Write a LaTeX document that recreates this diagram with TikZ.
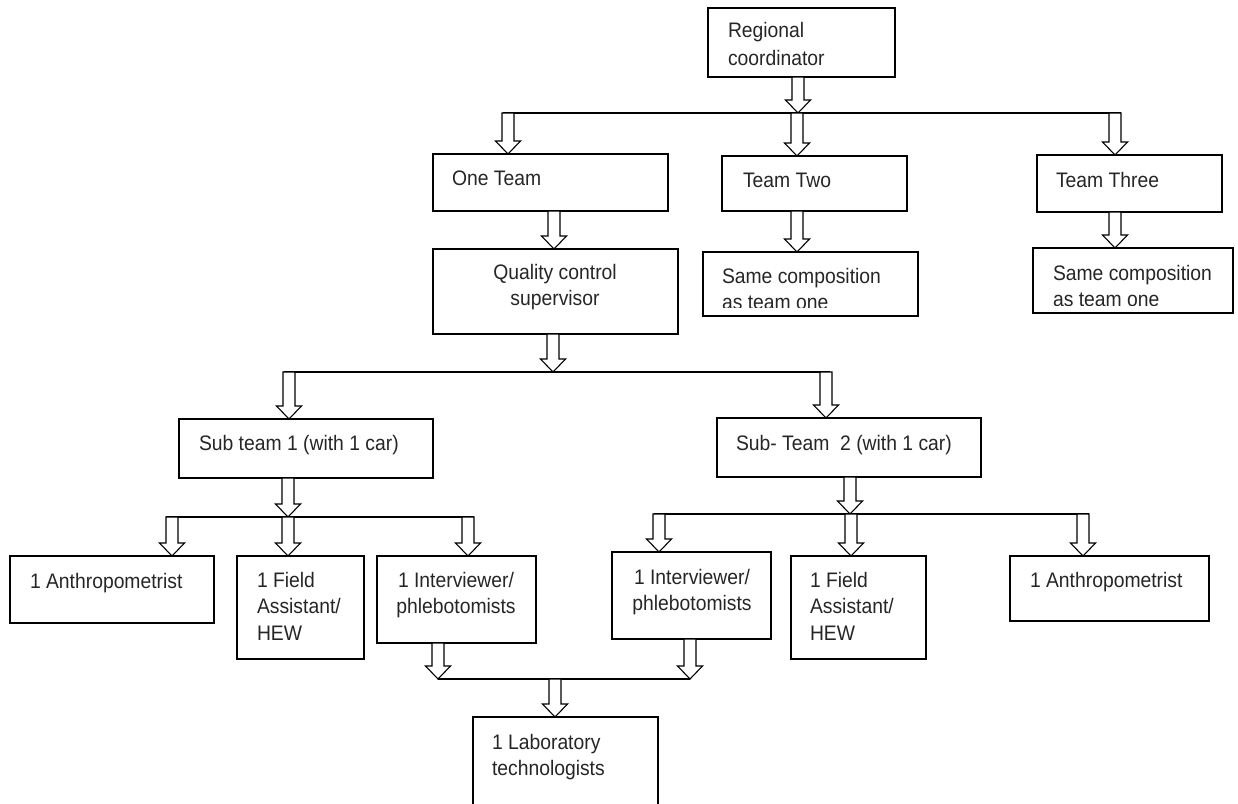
\documentclass[tikz,border=0pt]{standalone}
\usepackage{fontspec}
\setmainfont{Liberation Sans}[FakeStretch=0.92]
\usetikzlibrary{calc}
\tikzset{
  bx/.style={draw=black, line width=1.3pt, fill=white, rectangle, inner sep=0pt, outer sep=0pt},
  txt/.style={inner sep=0pt, outer sep=0pt, font=\fontsize{21}{26.5}\selectfont, text=black!85},
  barrow/.style={draw=black, line width=1.1pt, fill=white, line join=miter},
  bus/.style={draw=black, line width=1.3pt},
}
\newcommand{\mkbox}[5]{\node[bx, anchor=north west, minimum width=#4-#2, minimum height=#5-#3] (#1) at (#2,#3) {};}
\newcommand{\ltxt}[4]{\node[txt, anchor=north west, align=left] (#1) at (#2,#3-18.55) {\strut #4};}
\newcommand{\ctxt}[4]{\node[txt, anchor=north, align=center] (#1) at (#2,#3-18.55) {\strut #4};}
\newcommand{\barr}[3]{\draw[barrow] let \p1=(#2), \p2=(#3), \p3=(#1,0) in
  (\x3-6pt,\y1) -- (\x3-6pt,\y2+13pt) -- (\x3-12.5pt,\y2+13pt) -- (\x3,\y2) --
  (\x3+12.5pt,\y2+13pt) -- (\x3+6pt,\y2+13pt) -- (\x3+6pt,\y1) -- cycle;}
\begin{document}
\begin{tikzpicture}[x=1pt,y=-1pt]
\useasboundingbox (0,0) rectangle (1238,803);
\clip (0,0) rectangle (1238,803);
\fill[white] (0,0) rectangle (1238,803);

% bus lines
\coordinate (bus1) at (503,113);  \coordinate (bus1e) at (1121,113);
\coordinate (bus2) at (284,372);  \coordinate (bus2e) at (830,372);
\coordinate (bus3) at (166,517);  \coordinate (bus3e) at (474,517);
\coordinate (bus4) at (654,514);  \coordinate (bus4e) at (1089,514);
\coordinate (bus5) at (438,679);  \coordinate (bus5e) at (690,679);
\draw[bus] (bus1) -- (bus1e);
\draw[bus] (bus2) -- (bus2e);
\draw[bus] (bus3) -- (bus3e);
\draw[bus] (bus4) -- (bus4e);
\draw[bus] (bus5) -- (bus5e);

% boxes
\mkbox{rc}{708}{8}{895}{77}
\mkbox{t1}{433}{154}{668}{211}
\mkbox{t2}{722}{156}{907}{211}
\mkbox{t3}{1037}{155}{1222}{212}
\mkbox{qc}{433}{249}{678}{334}
\mkbox{s2}{703}{252}{918}{316}
\mkbox{s3}{1033}{248}{1233}{313}
\mkbox{st1}{179}{419}{433}{478}
\mkbox{st2}{717}{418}{981}{477}
\mkbox{a1}{10}{556}{214}{623}
\mkbox{f1}{237}{556}{364}{659}
\mkbox{i1}{377}{556}{536}{643}
\mkbox{i2}{612}{552}{771}{639}
\mkbox{f2}{791}{556}{926}{659}
\mkbox{a2}{1010}{556}{1209}{621}
\mkbox{lab}{473}{717}{658}{830}

% texts
\ltxt{rct}{728}{37}{Regional\\[1.5pt]coordinator}
\ltxt{t1t}{452}{185}{One Team}
\ltxt{t2t}{743}{187}{Team Two}
\ltxt{t3t}{1056}{187}{Team Three}
\ctxt{qct}{555}{279}{Quality control\\supervisor}
\begin{scope}
  \clip (703,252) rectangle (918,307);
  \ltxt{s2t}{722}{283}{Same composition\\as team one}
\end{scope}
\begin{scope}
  \clip (1033,248) rectangle (1233,305);
  \ltxt{s3t}{1053}{280}{Same composition\\as team one}
\end{scope}
\ltxt{st1t}{199}{450}{Sub team 1 (with 1 car)}
\ltxt{st2t}{736}{450}{Sub- Team\ \ 2 (with 1 car)}
\ltxt{a1t}{30}{588}{1 Anthropometrist}
\ltxt{f1t}{257}{587}{1 Field\\Assistant/\\HEW}
\ctxt{i1t}{456}{587}{1 Interviewer/\\phlebotomists}
\ctxt{i2t}{692}{584}{1 Interviewer/\\phlebotomists}
\ltxt{f2t}{810}{587}{1 Field\\Assistant/\\HEW}
\ltxt{a2t}{1030}{587}{1 Anthropometrist}
\ltxt{labt}{492}{749}{1 Laboratory\\technologists}

% block arrows
\barr{798}{rc.south}{bus1}
\barr{508}{bus1}{t1.north}
\barr{797}{bus1}{t2.north}
\barr{1115}{bus1}{t3.north}
\barr{554}{t1.south}{qc.north}
\barr{797}{t2.south}{s2.north}
\barr{1115}{t3.south}{s3.north}
\barr{553}{qc.south}{bus2}
\barr{289}{bus2}{st1.north}
\barr{826}{bus2}{st2.north}
\barr{288}{st1.south}{bus3}
\barr{172}{bus3}{a1.north}
\barr{288}{bus3}{f1.north}
\barr{468}{bus3}{i1.north}
\barr{850}{st2.south}{bus4}
\barr{659}{bus4}{i2.north}
\barr{851}{bus4}{f2.north}
\barr{1083}{bus4}{a2.north}
\barr{438}{i1.south}{bus5}
\barr{690}{i2.south}{bus5}
\barr{555}{bus5}{lab.north}
\end{tikzpicture}
\end{document}
